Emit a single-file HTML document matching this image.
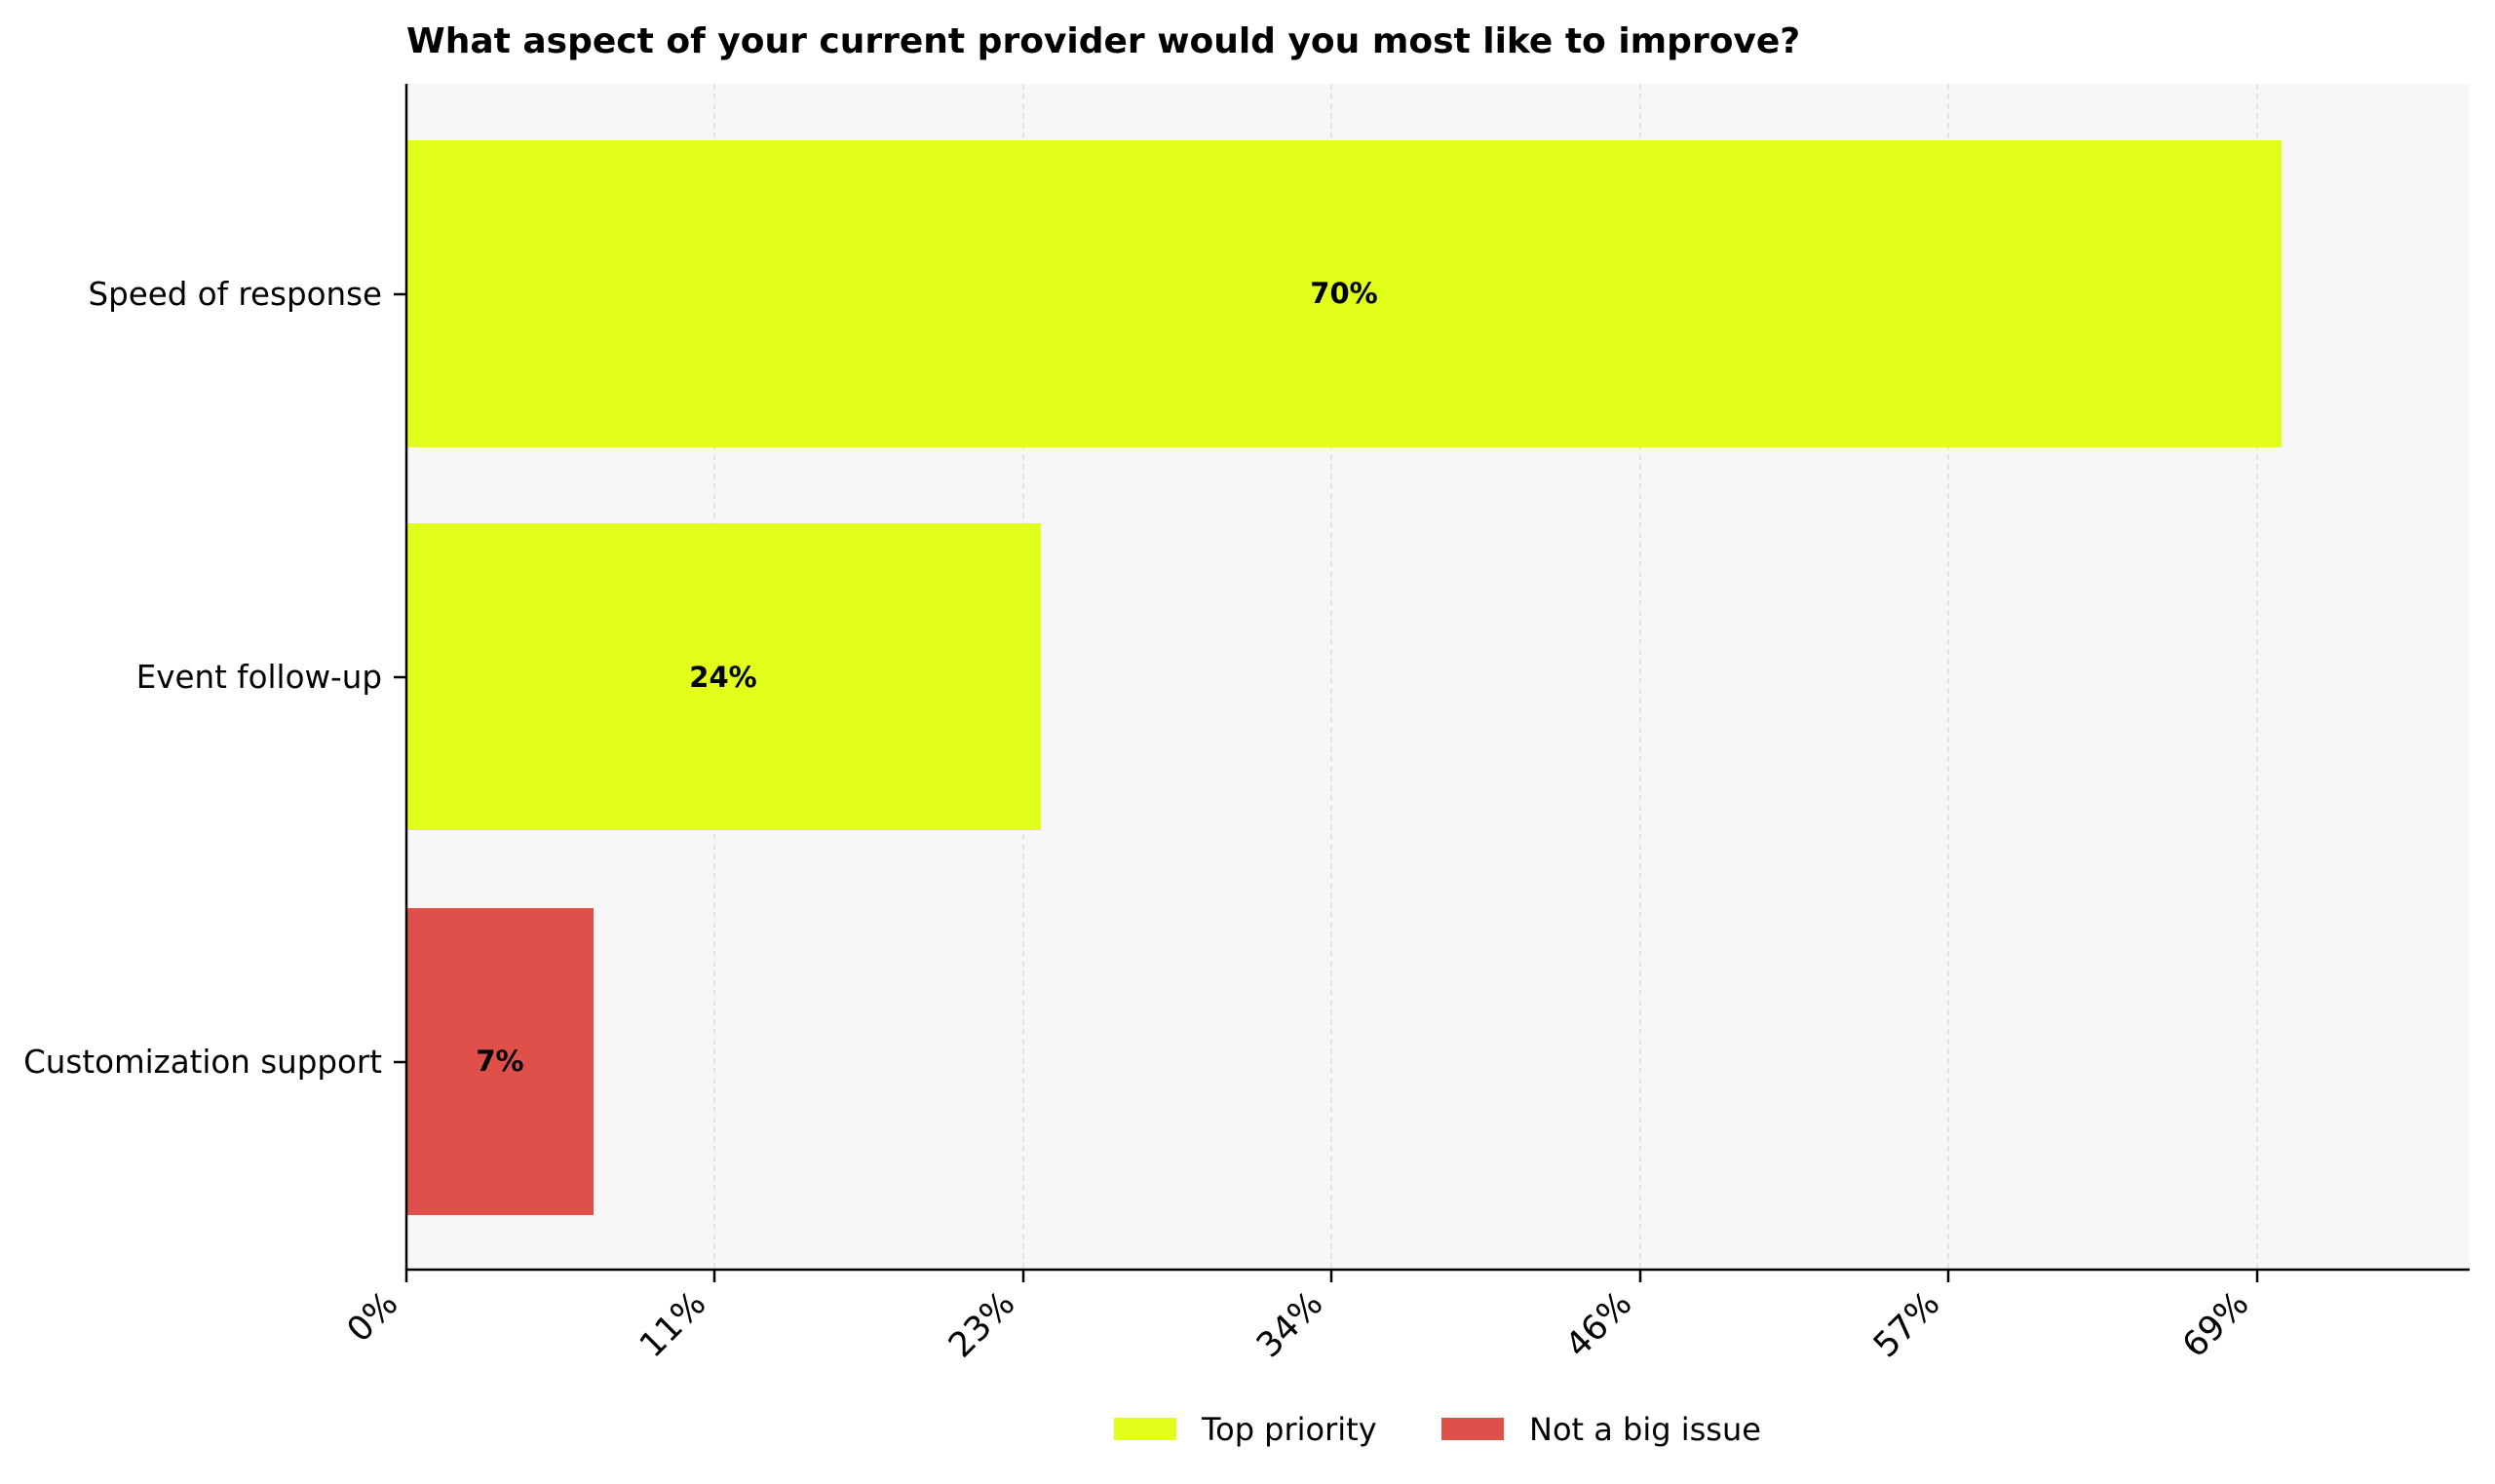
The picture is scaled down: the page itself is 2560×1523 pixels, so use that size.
<!DOCTYPE html>
<html><head><meta charset="utf-8"><style>body{margin:0;background:#fff}svg{display:block}</style></head><body>
<svg width="2560" height="1523" xmlns="http://www.w3.org/2000/svg" font-family="DejaVu Sans, Liberation Sans, sans-serif">
<rect x="417" y="86" width="2117" height="1217" fill="#f7f7f7"/>
<g stroke="#dddddd" stroke-width="1.5" stroke-dasharray="6,4">
<line x1="733" y1="86" x2="733" y2="1303"/><line x1="1050" y1="86" x2="1050" y2="1303"/><line x1="1366" y1="86" x2="1366" y2="1303"/><line x1="1683" y1="86" x2="1683" y2="1303"/><line x1="1999" y1="86" x2="1999" y2="1303"/><line x1="2316" y1="86" x2="2316" y2="1303"/>
</g>
<rect x="417" y="144" width="1924" height="315" fill="#e1ff1a"/>
<rect x="417" y="537" width="651" height="315" fill="#e1ff1a"/>
<rect x="417" y="932" width="192" height="315" fill="#e0504a"/>
<g stroke="#000" stroke-width="2.5">
<line x1="417" y1="86" x2="417" y2="1304"/><line x1="416" y1="1303" x2="2534" y2="1303"/>
<line x1="417" y1="1303" x2="417" y2="1316"/><line x1="733" y1="1303" x2="733" y2="1316"/><line x1="1050" y1="1303" x2="1050" y2="1316"/><line x1="1366" y1="1303" x2="1366" y2="1316"/><line x1="1683" y1="1303" x2="1683" y2="1316"/><line x1="1999" y1="1303" x2="1999" y2="1316"/><line x1="2316" y1="1303" x2="2316" y2="1316"/>
<line x1="404" y1="302" x2="417" y2="302"/><line x1="404" y1="695" x2="417" y2="695"/><line x1="404" y1="1090" x2="417" y2="1090"/>
</g>
<text x="417" y="54" font-size="36" font-weight="bold">What aspect of your current provider would you most like to improve?</text>
<g font-size="32.5" text-anchor="end">
<text x="392" y="313">Speed of response</text>
<text x="392" y="706">Event follow-up</text>
<text x="392" y="1101">Customization support</text>
</g>
<g font-size="29" font-weight="bold" text-anchor="middle">
<text x="1379" y="311">70%</text><text x="742" y="705">24%</text><text x="513" y="1099">7%</text>
</g>
<g font-size="35" text-anchor="end">
<text transform="translate(410,1340) rotate(-45)">0%</text>
<text transform="translate(726,1340) rotate(-45)">11%</text>
<text transform="translate(1043,1340) rotate(-45)">23%</text>
<text transform="translate(1359,1340) rotate(-45)">34%</text>
<text transform="translate(1676,1340) rotate(-45)">46%</text>
<text transform="translate(1992,1340) rotate(-45)">57%</text>
<text transform="translate(2309,1340) rotate(-45)">69%</text>
</g>
<rect x="1143" y="1455" width="64" height="23" fill="#e1ff1a"/>
<rect x="1479" y="1455" width="64" height="23" fill="#e0504a"/>
<g font-size="32"><text x="1233" y="1478">Top priority</text><text x="1569" y="1478">Not a big issue</text></g>
</svg>
</body></html>
